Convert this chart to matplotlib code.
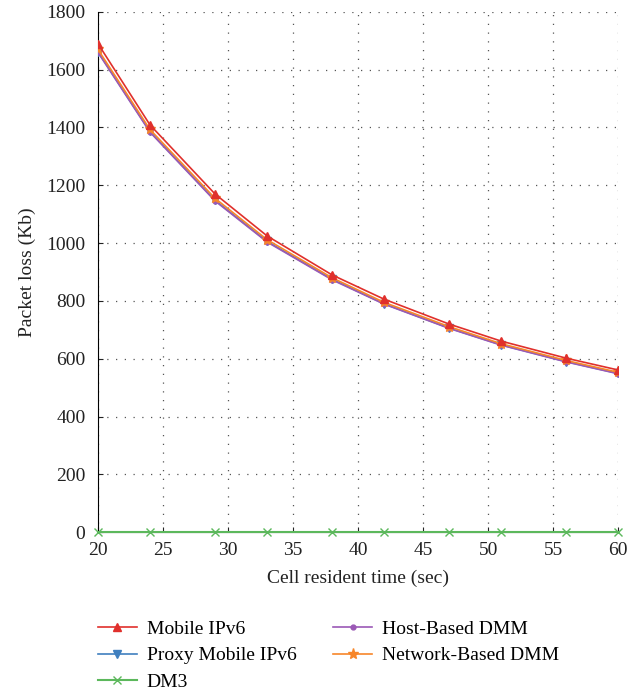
import matplotlib
matplotlib.use("Agg")
import matplotlib.pyplot as plt

x = [20, 24, 29, 33, 38, 42, 47, 51, 56, 60]
mobile_ipv6 = [1690, 1409, 1170, 1025, 890, 806, 720, 661, 602, 561]
proxy_mipv6 = [1662, 1386, 1148, 1006, 875, 790, 706, 648, 590, 549]
dm3 = [0, 0, 0, 0, 0, 0, 0, 0, 0, 0]
host_dmm = [1660, 1384, 1146, 1004, 873, 789, 705, 647, 589, 548]
network_dmm = [1670, 1393, 1155, 1012, 880, 795, 711, 652, 594, 553]

plt.rcParams['font.family'] = ['Liberation Serif', 'DejaVu Serif']

fig = plt.figure(figsize=(6.44, 6.93), dpi=100)
ax = fig.add_axes([0.152, 0.232, 0.808, 0.751])

ax.plot(x, mobile_ipv6, color='#e0302c', marker='^', markersize=6, lw=1.2, label='Mobile IPv6', zorder=5)
ax.plot(x, proxy_mipv6, color='#3f7fbf', marker='v', markersize=6, lw=1.2, label='Proxy Mobile IPv6', zorder=3)
ax.plot(x, dm3, color='#5cb85c', marker='x', markersize=6, lw=1.5, label='DM3', zorder=3, clip_on=False)
ax.plot(x, host_dmm, color='#9b59b6', marker='o', markersize=3.5, lw=1.2, label='Host-Based DMM', zorder=3)
ax.plot(x, network_dmm, color='#f7862a', marker='*', markersize=8, lw=1.2, label='Network-Based DMM', zorder=4)

ax.set_xlim(20, 60)
ax.set_ylim(0, 1800)
ax.set_xticks([20, 25, 30, 35, 40, 45, 50, 55, 60])
ax.set_yticks(range(0, 1801, 200))
ax.grid(True, linestyle=(0, (1, 6)), color='#555555', linewidth=0.9)
ax.spines['top'].set_visible(False)
ax.spines['right'].set_visible(False)
ax.tick_params(axis='y', direction='in', labelsize=14, colors='#222222', pad=9)
ax.tick_params(axis='x', direction='in', labelsize=14, colors='#222222', pad=7)
ax.set_xlabel('Cell resident time (sec)', fontsize=14, color='#222222', labelpad=8)
ax.set_ylabel('Packet loss (Kb)', fontsize=14, color='#222222', labelpad=7)

handles, labels = ax.get_legend_handles_labels()
fig.legend(handles, labels,
           loc='upper left', bbox_to_anchor=(0.14, 0.116), ncol=2,
           frameon=False, fontsize=14, handlelength=2.0, labelspacing=0.45,
           columnspacing=1.9, handletextpad=0.5, borderaxespad=0)

fig.savefig('out.png', dpi=100)
